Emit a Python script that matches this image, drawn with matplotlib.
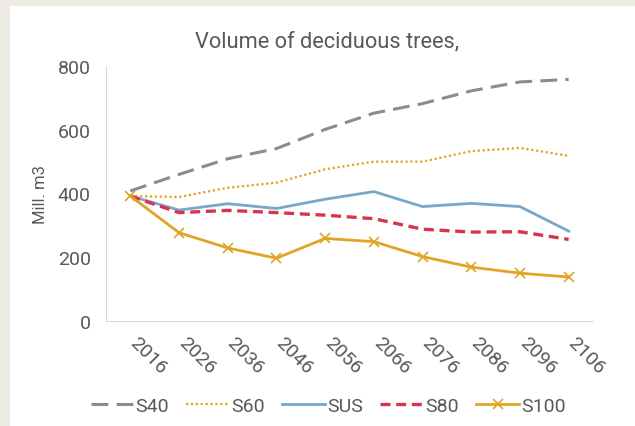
import matplotlib
matplotlib.use("Agg")
import matplotlib.pyplot as plt
from matplotlib.transforms import ScaledTranslation

years = ["2016", "2026", "2036", "2046", "2056", "2066", "2076", "2086", "2096", "2106"]
s40 = [408, 460, 509, 541, 601, 652, 682, 722, 750, 758]
s60 = [392, 389, 418, 434, 476, 500, 500, 533, 543, 518]
sus = [392, 348, 368, 353, 382, 406, 359, 369, 359, 282]
s80 = [392, 340, 347, 340, 332, 321, 288, 279, 280, 256]
s100 = [392, 277, 229, 197, 259, 249, 202, 169, 150, 138]

plt.rcParams['font.family'] = ['Roboto', 'DejaVu Sans']

txt = "#595959"
fig = plt.figure(figsize=(6.35, 4.27), dpi=100)
fig.patch.set_facecolor("#EEEBE3")
bg = fig.add_axes([10/635, 0, 1 - 10/635, 1 - 7/427])
bg.set_facecolor("white")
bg.set_xticks([]); bg.set_yticks([])
for s in bg.spines.values():
    s.set_visible(False)
bg.set_zorder(0)

ax = fig.add_axes([106/635, 1 - 322/427, 487/635, 255/427])
ax.set_zorder(1)
ax.set_facecolor("none")
x = list(range(len(years)))
ax.plot(x, s40, color="#8C8C8C", lw=2.2, dashes=(5.5, 2.7), label="S40")
ax.plot(x, s60, color="#E3A21A", lw=1.6, linestyle=(0, (1, 1.2)), label="S60")
ax.plot(x, sus, color="#7BA7C7", lw=2.0, label="SUS")
ax.plot(x, s80, color="#D9344F", lw=2.4, dashes=(3, 1.7), label="S80")
ax.plot(x, s100, color="#E0A526", lw=2.0, marker="x", ms=7, mew=1.2, label="S100")

ax.set_xlim(-0.5, len(years) - 0.5)
ax.set_ylim(0, 800)
ax.set_yticks([0, 200, 400, 600, 800])
ax.set_xticks(x)
ax.set_xticklabels(years, rotation=-45, ha="left", va="top")
ax.tick_params(axis="both", length=0, labelsize=14, colors=txt)
ax.tick_params(axis="y", pad=11)
ax.tick_params(axis="x", pad=9)
shift = ScaledTranslation(-4/100, 0, fig.dpi_scale_trans)
for lab in ax.get_xticklabels():
    lab.set_transform(lab.get_transform() + shift)
for s in ["top", "right"]:
    ax.spines[s].set_visible(False)
ax.spines["left"].set_color("#D9D9D9")
ax.spines["bottom"].set_color("#D9D9D9")
ax.set_ylabel("Mill. m3", fontsize=12, color=txt)
ax.yaxis.set_label_coords((48 - 106) / 487, 0.5)

fig.text(0.515, 1 - 47/427, "Volume of deciduous trees,", ha="center", va="baseline", fontsize=15.7, color=txt)

leg = fig.legend(loc="center", bbox_to_anchor=(328/635, 1 - 407/427), ncol=5, frameon=False,
                 fontsize=14, handlelength=2.2, handletextpad=0.1, columnspacing=0.9)
for t in leg.get_texts():
    t.set_color(txt)

fig.savefig("out.png", dpi=100, facecolor=fig.get_facecolor())
